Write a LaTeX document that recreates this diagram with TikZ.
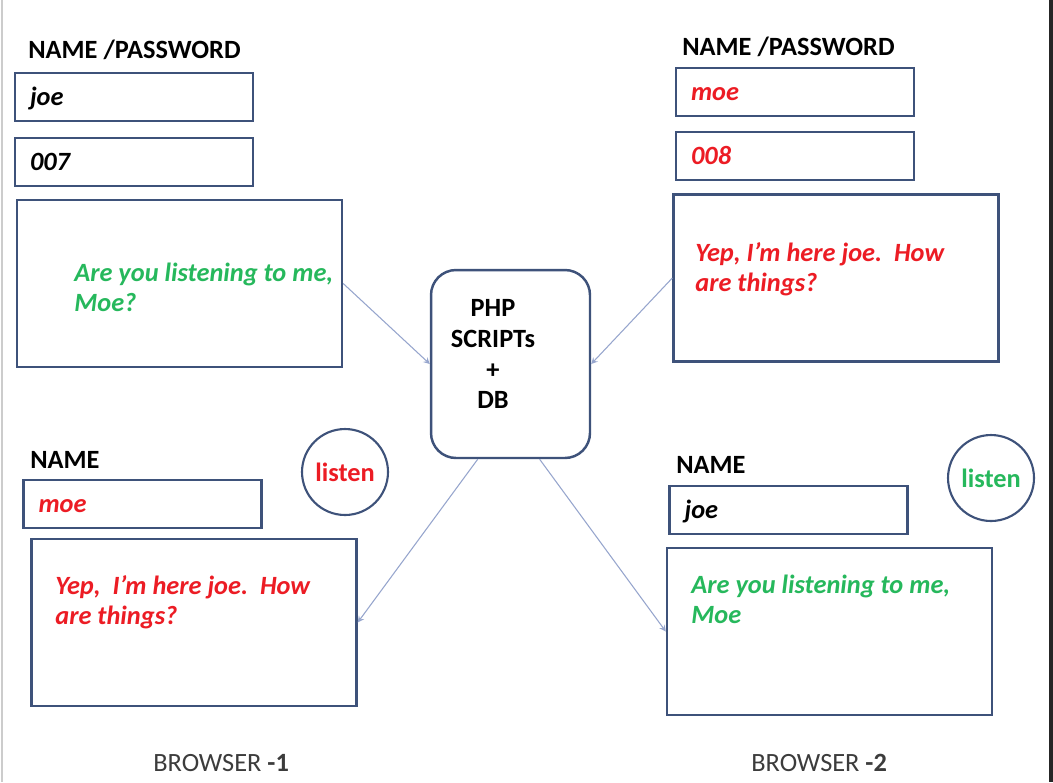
\documentclass[tikz,border=0pt]{standalone}
\usepackage{fontspec}
\setmainfont{Carlito}
\usetikzlibrary{positioning}
\tikzset{>=stealth}
\definecolor{boxline}{RGB}{62,82,122}
\definecolor{linkline}{RGB}{150,165,205}
\definecolor{msggreen}{RGB}{38,184,92}
\definecolor{msgred}{RGB}{236,28,36}
\definecolor{labelgray}{RGB}{60,60,60}
\tikzset{
  field/.style={draw=boxline, line width=1.4pt, minimum height=0.96cm, text width=4.16cm,
    inner xsep=0.3cm, inner ysep=0pt, align=left, text height=11pt, text depth=1pt,
    font=\fontsize{15}{17}\selectfont\bfseries\itshape},
  msgbox/.style={draw=boxline, line width=1.4pt, minimum width=6.5cm, minimum height=3.34cm},
  msgtext/.style={anchor=base west, align=left, inner sep=0pt,
    font=\fontsize{15}{17}\selectfont\bfseries\itshape},
  caption/.style={anchor=base west, inner sep=0pt, font=\fontsize{15}{17}\selectfont\bfseries},
  listenbtn/.style={circle, draw=boxline, line width=1.2pt, minimum size=1.72cm, inner sep=0pt,
    font=\fontsize{15}{17}\selectfont\bfseries},
  link/.style={->, draw=linkline, line width=0.6pt},
}

\begin{document}
\begin{tikzpicture}[x=0.02cm, y=-0.02cm]
      \useasboundingbox (0,0) rectangle (1053,782);
      \fill[white] (0,0) rectangle (1053,782);
      \draw[black!20, line width=0.8pt] (2,0) -- (2,782);
      \draw[black!85, line width=2pt] (1051,0) -- (1051,782);
      % browser 1, top
      \node[caption] (pwlabelone) at (28,58) {NAME /PASSWORD};
      \node[field] (userone) at (134,97) {joe};
      \node[field] (passone) at (134,162) {007};
      \node[msgbox] (sendone) at (179.5,283.5) {};
      \node[msgtext, text=msggreen] (sendonetext) at (74,311) {Are you listening to me,\\Moe?};
      % browser 2, top
      \node[caption] (pwlabeltwo) at (682,55) {NAME /PASSWORD};
      \node[field, text=msgred] (usertwo) at (795,92) {moe};
      \node[field, text=msgred] (passtwo) at (795,156) {008};
      \node[msgbox] (sendtwo) at (836,278) {};
      \node[msgtext, text=msgred] (sendtwotext) at (695,291) {Yep, I'm here joe.\ \ How\\are things?};
      % server
      \node[draw=boxline, line width=1.4pt, rounded corners=0.5cm, minimum width=3.18cm,
        minimum height=3.76cm] (server) at (510.5,364) {};
      \node[align=center, font=\fontsize{15}{17.6}\selectfont\bfseries] (servertext) at (493,354)
        {PHP\\SCRIPTs\\+\\DB};
      % browser 1, bottom
      \node[caption] (namelabelone) at (30,468) {NAME};
      \node[field, text=msgred] (peerone) at (142.5,504) {moe};
      \node[listenbtn, text=msgred] (listenone) at (345,472) {listen};
      \node[msgbox] (recvone) at (194,622.5) {};
      \node[msgtext, text=msgred] (recvonetext) at (55,624) {Yep,\ \ I'm here joe.\ \ How\\are things?};
      \node[anchor=base west, inner sep=0pt, text=labelgray, font=\fontsize{15}{17}\selectfont]
        (browserone) at (153,771) {BROWSER \textbf{-1}};
      % browser 2, bottom
      \node[caption] (namelabeltwo) at (676,473) {NAME};
      \node[field] (peertwo) at (788.5,510) {joe};
      \node[listenbtn, text=msggreen] (listentwo) at (991,478) {listen};
      \node[msgbox] (recvtwo) at (829.5,631.5) {};
      \node[msgtext, text=msggreen] (recvtwotext) at (691,623) {Are you listening to me,\\Moe};
      \node[anchor=base west, inner sep=0pt, text=labelgray, font=\fontsize{15}{17}\selectfont]
        (browsertwo) at (751,771) {BROWSER \textbf{-2}};
      % messages through the server
      \draw[link] (sendone.east) -- (server.west);
      \draw[link] (sendtwo.west) -- (server.east);
      \draw[link] (server.251) -- (recvone.east);
      \draw[link] (server.287) -- (recvtwo.west);
    \end{tikzpicture}
\end{document}
